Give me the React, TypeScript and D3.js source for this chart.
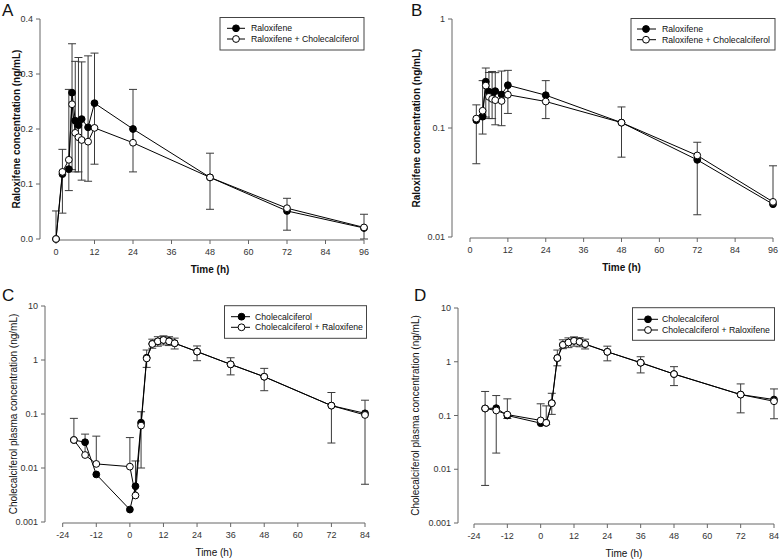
import React from 'react';
import * as d3 from 'd3';

// ---------- data ----------
const timesAB = [0, 2, 4, 5, 6, 7, 8, 10, 12, 24, 48, 72, 96];
const raloxifene = [0, 0.118, 0.127, 0.266, 0.215, 0.207, 0.218, 0.203, 0.247, 0.2, 0.112, 0.051, 0.02];
const raloxifeneErr = [0, 0.071, 0.039, 0.14, 0.093, 0.085, 0.111, 0.098, 0.111, 0.078, 0.058, 0.035, 0.02];
const raloxifeneChol = [0, 0.122, 0.144, 0.245, 0.193, 0.185, 0.18, 0.177, 0.202, 0.175, 0.112, 0.056, 0.021];
const raloxifeneCholErr = [0.051, 0.041, 0.128, 0.11, 0.13, 0.145, 0.142, 0.156, 0.136, 0.097, 0.044, 0.018, 0.024];

const timesCD = [-20, -16, -12, 0, 2, 4, 6, 8, 10, 12, 14, 16, 24, 36, 48, 72, 84];
const cholC = [0.033, 0.03, 0.0076, 0.0017, 0.0046, 0.069, 1.1, 2.0, 2.2, 2.35, 2.25, 2.05, 1.43, 0.83, 0.49, 0.143, 0.103];
const cholCErr = [0.04, 0.035, 0.01, 0.002, 0.006, 0.059, 0.37, 0.35, 0.4, 0.45, 0.4, 0.45, 0.46, 0.3, 0.22, 0.114, 0.098];
const cholRalC = [0.033, 0.0174, 0.0119, 0.0106, 0.0031, 0.061, 1.07, 1.98, 2.22, 2.35, 2.22, 2.04, 1.43, 0.83, 0.49, 0.143, 0.096];
const cholRalCErr = [0.05, 0.025, 0.027, 0.026, 0.0104, 0.049, 0.46, 0.45, 0.48, 0.45, 0.48, 0.5, 0.39, 0.27, 0.21, 0.107, 0.084];

const cholD = [0.135, 0.137, 0.1, 0.072, 0.073, 0.17, 1.17, 2.06, 2.28, 2.45, 2.35, 2.13, 1.53, 0.96, 0.59, 0.245, 0.198];
const cholDErr = [0.13, 0.117, 0.012, 0.08, 0.005, 0.065, 0.33, 0.31, 0.45, 0.5, 0.45, 0.4, 0.49, 0.34, 0.23, 0.133, 0.111];
const cholRalD = [0.135, 0.124, 0.104, 0.081, 0.073, 0.169, 1.17, 2.06, 2.28, 2.45, 2.35, 2.13, 1.53, 0.96, 0.59, 0.245, 0.184];
const cholRalDErr = [0.145, 0.111, 0.1, 0.084, 0.078, 0.09, 0.48, 0.5, 0.5, 0.45, 0.45, 0.5, 0.42, 0.28, 0.22, 0.142, 0.128];

const xTicksAB = [0, 12, 24, 36, 48, 60, 72, 84, 96];
const xTicksCD = [-24, -12, 0, 12, 24, 36, 48, 60, 72, 84];
const yTicksA = [0, 0.1, 0.2, 0.3, 0.4];
const yTicksB = [0.01, 0.1, 1];
const yTicksCD = [0.001, 0.01, 0.1, 1, 10];

const legendAB = ['Raloxifene', 'Raloxifene + Cholecalciferol'];
const legendCD = ['Cholecalciferol', 'Cholecalciferol + Raloxifene'];
const titleAB = 'Raloxifene concentration (ng/mL)';
const titleCD = 'Cholecalciferol plasma concentration (ng/mL)';
const xTitle = 'Time (h)';

const FONT = '"Liberation Sans", Arial, Helvetica, sans-serif';
const AXIS = '#666';
const ERR = '#3a3a3a';

type Series = { x: number[]; y: number[]; err: number[]; dir: 'up' | 'down'; filled: boolean };

type Cfg = {
  letter: string;
  letterX: number;
  letterY: number;
  log: boolean;
  xDomain: [number, number];
  xRange: [number, number];
  yDomain: [number, number];
  yRange: [number, number];
  yAxisX: number;
  xAxisY: number;
  xTicks: number[];
  yTicks: number[];
  yFmt: (v: number) => string;
  title: string;
  titleX: number;
  bold: boolean;
  series: Series[];
  legend: string[];
  legBox: [number, number, number, number];
  legSym: [number, number, number];
  legTextX: number;
  legRows: [number, number];
};

function Panel({ c }: { c: Cfg }) {
  const xs = d3.scaleLinear().domain(c.xDomain).range(c.xRange);
  const ys: any = c.log
    ? d3.scaleLog().domain(c.yDomain).range(c.yRange)
    : d3.scaleLinear().domain(c.yDomain).range(c.yRange);
  const ok = (v: number) => (c.log ? v > 0 : true);
  const line = d3
    .line<[number, number]>()
    .x((d) => xs(d[0]))
    .y((d) => ys(d[1]));
  const fw = c.bold ? 'bold' : 'normal';
  const yMid = (c.yRange[0] + c.yRange[1]) / 2;
  const xMid = (c.xRange[0] + c.xRange[1]) / 2;

  const bars: React.ReactNode[] = [];
  c.series.forEach((s, si) => {
    s.x.forEach((t, i) => {
      const v = s.y[i];
      if (!ok(v)) return;
      let end = s.dir === 'up' ? v + s.err[i] : v - s.err[i];
      if (s.dir === 'down') {
        if (c.log && end <= 0) return;
        if (!c.log) end = Math.max(end, c.yDomain[0]);
      }
      const px = xs(t);
      const y0 = ys(v);
      const y1 = ys(end);
      bars.push(
        <g key={`e${si}-${i}`} stroke={ERR} strokeWidth={1}>
          <line x1={px} x2={px} y1={y0} y2={y1} />
          <line x1={px - 4} x2={px + 4} y1={y1} y2={y1} />
        </g>
      );
    });
  });

  return (
    <g>
      <text x={c.letterX} y={c.letterY} fontSize={17} fontFamily={FONT} fill="#111">
        {c.letter}
      </text>
      {/* y axis */}
      <line x1={c.yAxisX} x2={c.yAxisX} y1={c.yRange[0]} y2={c.yRange[1]} stroke={AXIS} />
      {c.yTicks.map((t) => (
        <g key={`yt${t}`}>
          <line x1={c.yAxisX - 4} x2={c.yAxisX} y1={ys(t)} y2={ys(t)} stroke={AXIS} />
          <text
            x={c.yAxisX - 7}
            y={ys(t)}
            dy="0.35em"
            textAnchor="end"
            fontSize={9}
            fontFamily={FONT}
            fill="#333"
          >
            {c.yFmt(t)}
          </text>
        </g>
      ))}
      {/* x axis */}
      <line x1={c.xRange[0]} x2={c.xRange[1]} y1={c.xAxisY} y2={c.xAxisY} stroke={AXIS} />
      {c.xTicks.map((t) => (
        <g key={`xt${t}`}>
          <line x1={xs(t)} x2={xs(t)} y1={c.xAxisY} y2={c.xAxisY + 4} stroke={AXIS} />
          <text x={xs(t)} y={c.xAxisY + 15} textAnchor="middle" fontSize={9} fontFamily={FONT} fill="#333">
            {t}
          </text>
        </g>
      ))}
      <text
        x={xMid}
        y={c.xAxisY + 33}
        textAnchor="middle"
        fontSize={10}
        fontWeight={fw}
        fontFamily={FONT}
        fill="#111"
      >
        {xTitle}
      </text>
      <text
        transform={`translate(${c.titleX},${yMid}) rotate(-90)`}
        textAnchor="middle"
        dy="0.35em"
        fontSize={10}
        fontWeight={fw}
        fontFamily={FONT}
        fill="#111"
      >
        {c.title}
      </text>
      {bars}
      {c.series.map((s, si) => {
        const pts: [number, number][] = s.x
          .map((t, i) => [t, s.y[i]] as [number, number])
          .filter((d) => ok(d[1]));
        return <path key={`l${si}`} d={line(pts) || ''} fill="none" stroke="#000" strokeWidth={1} />;
      })}
      {c.series.map((s, si) =>
        s.x.map((t, i) =>
          ok(s.y[i]) ? (
            <circle
              key={`p${si}-${i}`}
              cx={xs(t)}
              cy={ys(s.y[i])}
              r={3.4}
              fill={s.filled ? '#000' : '#fff'}
              stroke="#000"
              strokeWidth={1}
            />
          ) : null
        )
      )}
      {/* legend */}
      <rect
        x={c.legBox[0]}
        y={c.legBox[1]}
        width={c.legBox[2]}
        height={c.legBox[3]}
        fill="#fff"
        stroke="#444"
        strokeWidth={1}
      />
      {c.legend.map((lab, i) => (
        <g key={`lg${i}`}>
          <line x1={c.legSym[0]} x2={c.legSym[1]} y1={c.legRows[i]} y2={c.legRows[i]} stroke="#000" />
          <circle
            cx={c.legSym[2]}
            cy={c.legRows[i]}
            r={3.4}
            fill={i === 0 ? '#000' : '#fff'}
            stroke="#000"
          />
          <text x={c.legTextX} y={c.legRows[i]} dy="0.35em" fontSize={8.7} fontFamily={FONT} fill="#111">
            {lab}
          </text>
        </g>
      ))}
    </g>
  );
}

const fmtLin = d3.format('.1f');
const fmtLog = (v: number) => String(v);

const panels: Cfg[] = [
  {
    letter: 'A',
    letterX: 2,
    letterY: 16,
    log: false,
    xDomain: [0, 96],
    xRange: [56, 364],
    yDomain: [0, 0.4],
    yRange: [239, 19],
    yAxisX: 40,
    xAxisY: 240,
    xTicks: xTicksAB,
    yTicks: yTicksA,
    yFmt: fmtLin,
    title: titleAB,
    titleX: 16,
    bold: true,
    series: [
      { x: timesAB, y: raloxifene, err: raloxifeneErr, dir: 'down', filled: true },
      { x: timesAB, y: raloxifeneChol, err: raloxifeneCholErr, dir: 'up', filled: false },
    ],
    legend: legendAB,
    legBox: [220, 17.5, 144, 32.5],
    legSym: [227, 245, 236],
    legTextX: 251,
    legRows: [28.3, 39],
  },
  {
    letter: 'B',
    letterX: 411,
    letterY: 16,
    log: true,
    xDomain: [0, 96],
    xRange: [470, 773],
    yDomain: [0.01, 1],
    yRange: [237, 19],
    yAxisX: 452,
    xAxisY: 238,
    xTicks: xTicksAB,
    yTicks: yTicksB,
    yFmt: fmtLog,
    title: titleAB,
    titleX: 416,
    bold: true,
    series: [
      { x: timesAB, y: raloxifene, err: raloxifeneErr, dir: 'down', filled: true },
      { x: timesAB, y: raloxifeneChol, err: raloxifeneCholErr, dir: 'up', filled: false },
    ],
    legend: legendAB,
    legBox: [631, 18.5, 144, 31.5],
    legSym: [637, 656, 646],
    legTextX: 662,
    legRows: [29, 39.7],
  },
  {
    letter: 'C',
    letterX: 2,
    letterY: 301,
    log: true,
    xDomain: [-24, 84],
    xRange: [62.7, 365],
    yDomain: [0.001, 10],
    yRange: [522, 306],
    yAxisX: 45,
    xAxisY: 523,
    xTicks: xTicksCD,
    yTicks: yTicksCD,
    yFmt: fmtLog,
    title: titleCD,
    titleX: 13,
    bold: false,
    series: [
      { x: timesCD, y: cholC, err: cholCErr, dir: 'down', filled: true },
      { x: timesCD, y: cholRalC, err: cholRalCErr, dir: 'up', filled: false },
    ],
    legend: legendCD,
    legBox: [224.5, 305.7, 142, 32.6],
    legSym: [231, 250, 241.5],
    legTextX: 255,
    legRows: [316.7, 327.3],
  },
  {
    letter: 'D',
    letterX: 414,
    letterY: 301,
    log: true,
    xDomain: [-24, 84],
    xRange: [474, 774],
    yDomain: [0.001, 10],
    yRange: [523, 308],
    yAxisX: 458,
    xAxisY: 524,
    xTicks: xTicksCD,
    yTicks: yTicksCD,
    yFmt: fmtLog,
    title: titleCD,
    titleX: 415,
    bold: false,
    series: [
      { x: timesCD, y: cholD, err: cholDErr, dir: 'down', filled: true },
      { x: timesCD, y: cholRalD, err: cholRalDErr, dir: 'up', filled: false },
    ],
    legend: legendCD,
    legBox: [632.5, 307.7, 142, 32.6],
    legSym: [637.5, 658, 648],
    legTextX: 662,
    legRows: [319.3, 330],
  },
];

export default function App() {
  return (
    <svg
      width={780}
      height={560}
      viewBox="0 0 780 560"
      style={{ position: 'absolute', left: 0, top: 0, background: '#fff' }}
    >
      <rect x={0} y={0} width={780} height={560} fill="#fff" />
      {panels.map((p) => (
        <Panel key={p.letter} c={p} />
      ))}
    </svg>
  );
}
